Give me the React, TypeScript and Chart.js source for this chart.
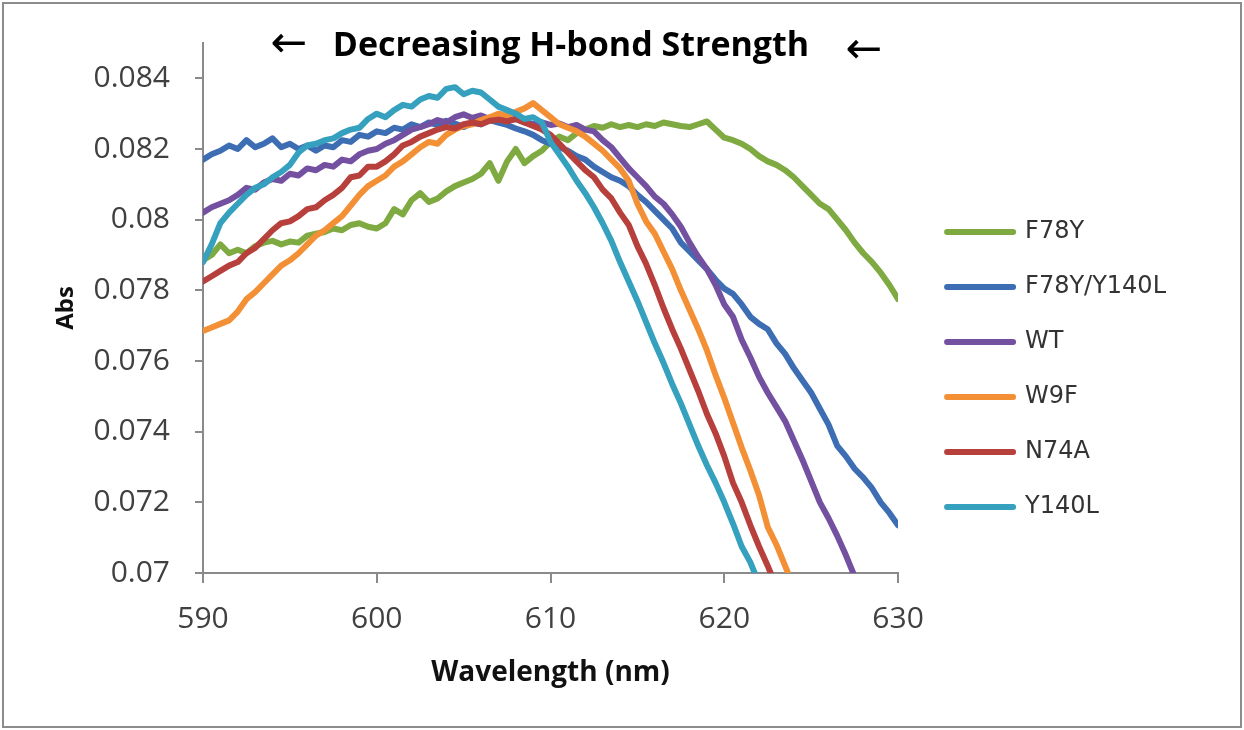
import React, { useEffect, useRef } from "react";
import { Chart, registerables } from "chart.js";

Chart.register(...registerables);

const WAVELENGTHS = [
  590, 590.5, 591, 591.5, 592, 592.5, 593, 593.5, 594, 594.5,
  595, 595.5, 596, 596.5, 597, 597.5, 598, 598.5, 599, 599.5,
  600, 600.5, 601, 601.5, 602, 602.5, 603, 603.5, 604, 604.5,
  605, 605.5, 606, 606.5, 607, 607.5, 608, 608.5, 609, 609.5,
  610, 610.5, 611, 611.5, 612, 612.5, 613, 613.5, 614, 614.5,
  615, 615.5, 616, 616.5, 617, 617.5, 618, 618.5, 619, 619.5,
  620, 620.5, 621, 621.5, 622, 622.5, 623, 623.5, 624, 624.5,
  625, 625.5, 626, 626.5, 627, 627.5, 628, 628.5, 629, 629.5,
  630,
];

const F78Y = [
  0.07885, 0.079, 0.0793, 0.07905, 0.07915, 0.07905, 0.07925, 0.07935, 0.0794, 0.0793,
  0.07938, 0.07935, 0.07955, 0.0796, 0.07965, 0.07975, 0.0797, 0.07985, 0.0799, 0.0798,
  0.07975, 0.0799, 0.0803, 0.08015, 0.08055, 0.08075, 0.0805, 0.0806, 0.0808, 0.08095,
  0.08105, 0.08115, 0.0813, 0.0816, 0.0811, 0.08165, 0.082, 0.0816, 0.0818, 0.08195,
  0.0822, 0.08235, 0.08225, 0.08245, 0.08255, 0.08265, 0.0826, 0.0827, 0.08262, 0.08268,
  0.08262, 0.0827, 0.08265, 0.08275, 0.0827, 0.08265, 0.08262, 0.0827, 0.08278, 0.08255,
  0.08232, 0.08225, 0.08215, 0.082, 0.0818, 0.08165, 0.08155, 0.0814, 0.0812, 0.08095,
  0.0807, 0.08045, 0.0803, 0.08, 0.0797, 0.07935, 0.07905, 0.0788, 0.0785, 0.07815,
  0.07775,
];

const F78Y_Y140L = [
  0.0817, 0.08185, 0.08195, 0.0821, 0.082, 0.08225, 0.08205, 0.08215, 0.0823, 0.08205,
  0.08215, 0.082, 0.0821, 0.08195, 0.0821, 0.08205, 0.08225, 0.0822, 0.0824, 0.08235,
  0.0825, 0.08245, 0.0826, 0.08255, 0.0827, 0.08262, 0.08275, 0.08268, 0.0828, 0.08272,
  0.08262, 0.08275, 0.0827, 0.08282, 0.08275, 0.08268, 0.08258, 0.0825, 0.0824, 0.08225,
  0.08215, 0.08205, 0.08195, 0.0818, 0.0817, 0.0815, 0.08135, 0.0812, 0.0811, 0.08095,
  0.0807, 0.0805, 0.08025, 0.08, 0.07975, 0.07935, 0.0791, 0.07885, 0.0786, 0.0783,
  0.07805, 0.0779, 0.0776, 0.07725, 0.07705, 0.0769, 0.0765, 0.0762, 0.0758, 0.07545,
  0.0751, 0.07465, 0.0742, 0.0736, 0.0733, 0.07295, 0.0727, 0.0724, 0.072, 0.0717,
  0.07135,
];

const WT = [
  0.0802, 0.08035, 0.08045, 0.08055, 0.0807, 0.0809, 0.08085, 0.08105, 0.08115, 0.0811,
  0.0813, 0.08125, 0.08145, 0.0814, 0.08155, 0.0815, 0.0817, 0.08165, 0.08185, 0.08195,
  0.082, 0.08215, 0.08225, 0.0824, 0.08255, 0.08262, 0.0827, 0.08282, 0.08275, 0.0829,
  0.08298, 0.08288, 0.08295, 0.08285, 0.0829, 0.0828, 0.08285, 0.08275, 0.0827, 0.08275,
  0.08268, 0.08272, 0.08262, 0.08268, 0.08255, 0.0825, 0.08225, 0.08205, 0.08175, 0.08145,
  0.0812, 0.08095, 0.08065, 0.08045, 0.08015, 0.0798, 0.07935, 0.07895, 0.0786, 0.07815,
  0.0776, 0.07725, 0.0766, 0.0761, 0.07555, 0.0751, 0.0747, 0.0743, 0.07375, 0.0732,
  0.0726, 0.072, 0.07155, 0.07105, 0.0705, 0.0699,
];

const W9F = [
  0.07685, 0.07695, 0.07705, 0.07715, 0.0774, 0.07775, 0.07795, 0.0782, 0.07845, 0.0787,
  0.07885, 0.07905, 0.0793, 0.07955, 0.0797, 0.0799, 0.0801, 0.0804, 0.0807, 0.08095,
  0.0811, 0.08125, 0.0815, 0.08165, 0.08185, 0.08205, 0.0822, 0.08215, 0.0824, 0.08255,
  0.08265, 0.0827, 0.08282, 0.0829, 0.083, 0.08295, 0.08305, 0.08315, 0.0833, 0.0831,
  0.0829, 0.0827, 0.0826, 0.0825, 0.08235, 0.08215, 0.08195, 0.0817, 0.08145, 0.0811,
  0.08045, 0.07995, 0.0796, 0.0791, 0.0786, 0.078, 0.07745, 0.0769, 0.0763, 0.0756,
  0.07495, 0.07425, 0.07355, 0.0729, 0.0722, 0.0713, 0.0708, 0.0702, 0.0696,
];

const N74A = [
  0.07825, 0.0784, 0.07855, 0.0787, 0.0788, 0.07905, 0.0792, 0.07945, 0.0797, 0.0799,
  0.07995, 0.0801, 0.0803, 0.08035, 0.08055, 0.0807, 0.0809, 0.0812, 0.08125, 0.0815,
  0.0815, 0.08165, 0.08185, 0.0821, 0.0822, 0.08235, 0.08245, 0.08255, 0.08262, 0.08258,
  0.0827, 0.08275, 0.0827, 0.0828, 0.08283, 0.08278, 0.08285, 0.08275, 0.08265, 0.08255,
  0.0824, 0.08215, 0.0819, 0.08165, 0.0814, 0.0812, 0.08085, 0.0806, 0.0802, 0.07985,
  0.07925, 0.07875, 0.07815, 0.0775, 0.0769, 0.07635, 0.07575, 0.07515, 0.0745, 0.07395,
  0.0733, 0.07255, 0.072, 0.07135, 0.07075, 0.0702, 0.0696,
];

const Y140L = [
  0.0788, 0.0793, 0.0799, 0.0802, 0.08045, 0.0807, 0.0809, 0.081, 0.0812, 0.08135,
  0.08155, 0.0819, 0.0821, 0.08215, 0.08225, 0.0823, 0.08245, 0.08255, 0.0826, 0.08285,
  0.083, 0.0829, 0.0831, 0.08325, 0.0832, 0.0834, 0.0835, 0.08345, 0.0837, 0.08375,
  0.08355, 0.08365, 0.0836, 0.0834, 0.0832, 0.0831, 0.083, 0.08285, 0.0829, 0.08275,
  0.0822, 0.08185, 0.0815, 0.0811, 0.08075, 0.08035, 0.0799, 0.0794, 0.0788, 0.07825,
  0.0777, 0.0771, 0.0765, 0.07595, 0.07535, 0.0748, 0.0742, 0.0736, 0.07305, 0.07255,
  0.072, 0.0714, 0.07075, 0.0703, 0.0697,
];

const SERIES_NAMES = ["F78Y", "F78Y/Y140L", "WT", "W9F", "N74A", "Y140L"];
const SERIES_COLORS = ["#7faa42", "#3d6eb4", "#7451a0", "#f39036", "#b8403c", "#35a1bf"];

const X_TICKS = [590, 600, 610, 620, 630];
const Y_TICKS = [0.07, 0.072, 0.074, 0.076, 0.078, 0.08, 0.082, 0.084];
const Y_TICK_LABELS = ["0.07", "0.072", "0.074", "0.076", "0.078", "0.08", "0.082", "0.084"];

const TITLE_TEXT = "Decreasing H-bond Strength";
const ARROW = "\u2190";
const X_TITLE = "Wavelength (nm)";
const Y_TITLE = "Abs";

export default function App() {
  const ref = useRef<HTMLCanvasElement>(null);

  useEffect(() => {
    document.body.style.margin = "0";
    const seriesValues = [F78Y, F78Y_Y140L, WT, W9F, N74A, Y140L];
    const datasets = seriesValues.map((vals, i) => ({
      label: SERIES_NAMES[i],
      data: vals.map((v, j) => ({ x: WAVELENGTHS[j], y: v })),
      borderColor: SERIES_COLORS[i],
      backgroundColor: SERIES_COLORS[i],
      borderWidth: 6,
      pointRadius: 0,
      pointHoverRadius: 0,
      pointBorderWidth: 6,
      fill: false,
      tension: 0,
      clip: 0,
      borderCapStyle: "round" as const,
      borderJoinStyle: "round" as const,
      order: seriesValues.length - i,
    }));

    const titlePlugin = {
      id: "topTitle",
      afterDraw(chart: any) {
        const ctx = chart.ctx;
        ctx.save();
        ctx.fillStyle = "#000000";
        ctx.textBaseline = "middle";
        ctx.textAlign = "center";
        ctx.font = 'bold 34px "Open Sans"';
        ctx.fillText(TITLE_TEXT, 571, 46);
        ctx.font = '44px "DejaVu Sans"';
        ctx.fillText(ARROW, 289, 46);
        ctx.fillText(ARROW, 864, 52);
        ctx.restore();
      },
    };

    const axisColor = "#8a8a8a";
    const tickFont = { family: "Open Sans", size: 30 };

    const chart = new Chart(ref.current as HTMLCanvasElement, {
      type: "line",
      data: { datasets },
      options: {
        animation: false,
        responsive: false,
        events: [],
        layout: { padding: { top: 39, bottom: 30, left: 0, right: 68 } },
        plugins: {
          legend: {
            position: "right",
            align: "center",
            maxWidth: 300,
            labels: {
              usePointStyle: true,
              pointStyle: "line",
              pointStyleWidth: 66,
              padding: 31,
              color: "#333333",
              font: { family: "DejaVu Sans", size: 24 },
              generateLabels: (c: any) =>
                Chart.defaults.plugins.legend.labels
                  .generateLabels(c)
                  .map((l: any) => ({ ...l, lineCap: "round" })),
              sort: (a: any, b: any) => a.datasetIndex - b.datasetIndex,
            },
          },
          tooltip: { enabled: false },
          title: { display: false },
        },
        scales: {
          x: {
            type: "linear",
            min: 590,
            max: 630,
            afterBuildTicks: (s: any) => {
              s.ticks = X_TICKS.map((v) => ({ value: v }));
            },
            afterFit: (s: any) => {
              s.height = 127;
            },
            ticks: {
              color: "#404040",
              font: tickFont,
              padding: 18,
              maxRotation: 0,
              autoSkip: false,
              callback: (v: any) => String(v),
            },
            grid: {
              display: true,
              drawOnChartArea: false,
              drawTicks: true,
              tickLength: 10,
              color: axisColor,
              lineWidth: 2,
            },
            border: { display: true, color: axisColor, width: 2 },
            title: {
              display: true,
              text: X_TITLE,
              color: "#111111",
              font: { family: "Open Sans", size: 28, weight: "bold" },
              padding: { top: 0, bottom: 10 },
            },
          },
          y: {
            type: "linear",
            min: 0.07,
            max: 0.085,
            afterBuildTicks: (s: any) => {
              s.ticks = Y_TICKS.map((v) => ({ value: v }));
            },
            afterFit: (s: any) => {
              s.width = 203;
            },
            ticks: {
              color: "#404040",
              font: tickFont,
              padding: 25,
              autoSkip: false,
              callback: (_v: any, i: number) => Y_TICK_LABELS[i],
            },
            grid: {
              display: true,
              drawOnChartArea: false,
              drawTicks: true,
              tickLength: 8,
              color: axisColor,
              lineWidth: 2,
            },
            border: { display: true, color: axisColor, width: 2 },
            title: {
              display: true,
              text: Y_TITLE,
              color: "#111111",
              font: { family: "Open Sans", size: 24, weight: "bold" },
              padding: { top: 52, bottom: 0 },
            },
          },
          spacer: {
            type: "linear",
            axis: "y",
            position: "right",
            display: true,
            grid: { display: false, drawTicks: false },
            ticks: { display: false },
            border: { display: false },
            afterFit: (s: any) => {
              s.width = 18;
            },
          },
        },
      } as any,
      plugins: [titlePlugin],
    });
    return () => chart.destroy();
  }, []);

  return (
    <div style={{ position: "relative", width: 1244, height: 730, background: "#ffffff" }}>
      <canvas ref={ref} width={1244} height={730} style={{ position: "absolute", left: 0, top: 0 }} />
      <div
        style={{
          position: "absolute",
          left: 2,
          top: 2,
          width: 1240,
          height: 726,
          border: "2px solid #8c8c8c",
          boxSizing: "border-box",
          pointerEvents: "none",
        }}
      />
    </div>
  );
}
